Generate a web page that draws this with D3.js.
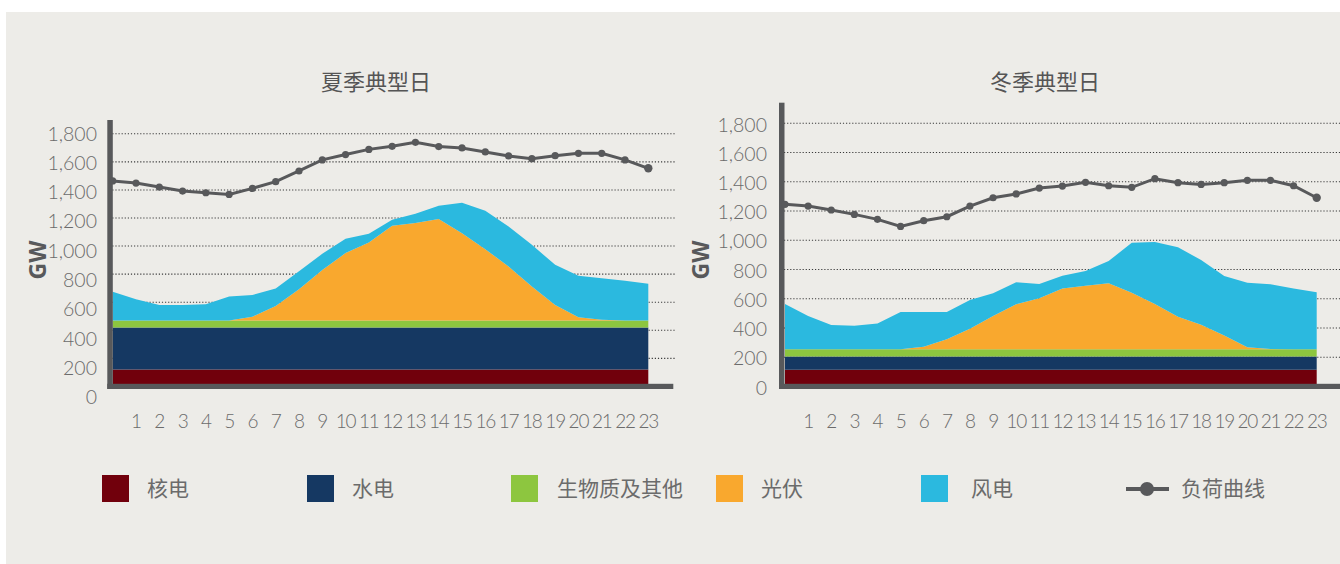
<!DOCTYPE html>
<html>
<head>
<meta charset="utf-8">
<script src="https://cdn.jsdelivr.net/npm/d3@7/dist/d3.min.js"></script>
<style>
html,body{margin:0;padding:0;background:#ffffff;}
svg{display:block;}
</style>
</head>
<body>
<svg id="chart" width="1340" height="564"></svg>
<script>
// ---------- DATA ----------
const hours = [0,1,2,3,4,5,6,7,8,9,10,11,12,13,14,15,16,17,18,19,20,21,22,23];
const xTickLabels = [1,2,3,4,5,6,7,8,9,10,11,12,13,14,15,16,17,18,19,20,21,22,23];
const yTickValues = [0,200,400,600,800,1000,1200,1400,1600,1800];
const chartTitles = ["夏季典型日", "冬季典型日"];
const yAxisTitle = "GW";
const seriesKeys = ["nuclear","hydro","bio","solar","wind"];
const seriesNames = ["核电","水电","生物质及其他","光伏","风电"];
const loadName = "负荷曲线";
const seriesColors = ["#71000c","#153862","#8dc63f","#f9a82e","#2bb9df"];
const loadColor = "#58595b";

// Summer typical day (GW)
const summerNuclear = [120,120,120,120,120,120,120,120,120,120,120,120,120,120,120,120,120,120,120,120,120,120,120,120];
const summerHydro   = [300,300,300,300,300,300,300,300,300,300,300,300,300,300,300,300,300,300,300,300,300,300,300,300];
const summerBio     = [50,50,50,50,50,50,50,50,50,50,50,50,50,50,50,50,50,50,50,50,50,50,50,50];
const summerSolar   = [0,0,0,0,0,0,27,103,223,360,480,555,675,694,722,622,508,384,241,110,23,5,0,0];
const summerWind    = [205,151,110,110,115,170,155,124,128,115,103,62,42,66,95,217,274,286,298,286,295,296,282,261];
const summerLoad    = [1464,1449,1421,1392,1380,1368,1411,1459,1535,1614,1652,1689,1711,1739,1709,1699,1671,1642,1623,1644,1661,1661,1614,1554];

// Winter typical day (GW)
const winterNuclear = [115,115,115,115,115,115,115,115,115,115,115,115,115,115,115,115,115,115,115,115,115,115,115,115];
const winterHydro   = [90,90,90,90,90,90,90,90,90,90,90,90,90,90,90,90,90,90,90,90,90,90,90,90];
const winterBio     = [50,50,50,50,50,50,50,50,50,50,50,50,50,50,50,50,50,50,50,50,50,50,50,50];
const winterSolar   = [0,0,0,0,0,0,17,68,140,227,307,348,416,434,451,386,309,222,168,94,13,1,0,0];
const winterWind    = [309,227,165,161,175,254,237,186,196,155,151,98,87,101,152,342,424,475,442,407,442,443,416,389];
const winterLoad    = [1246,1234,1207,1177,1143,1095,1134,1161,1234,1291,1317,1357,1371,1396,1373,1362,1421,1394,1382,1394,1410,1410,1373,1291];

// ---------- BUILD TABLES ----------
function buildTable(nuc, hyd, bio, sol, wnd, load){
  return hours.map((h,i)=>({hour:h, nuclear:nuc[i], hydro:hyd[i], bio:bio[i], solar:sol[i], wind:wnd[i], load:load[i]}));
}
const summerTable = buildTable(summerNuclear, summerHydro, summerBio, summerSolar, summerWind, summerLoad);
const winterTable = buildTable(winterNuclear, winterHydro, winterBio, winterSolar, winterWind, winterLoad);

// ---------- LAYOUT ----------
const svg = d3.select("#chart");
svg.append("rect").attr("x",6).attr("y",12).attr("width",1334).attr("height",552).attr("fill","#edece8");

const numFont = "Lato, 'Open Sans', 'DejaVu Sans', sans-serif";
const cjkFont = "'Noto Sans CJK SC', 'Noto Sans', sans-serif";
const textColor = "#6b6b6b";

const panels = [
  { table: summerTable, title: chartTitles[0], titleX: 376,
    xRange:[112.7,648.3], gridRange:[386.4,133.8], labelRange:[396.7,133],
    axisX:107.3, axisTop:120, axisRight:673.3, gridRight:675, labelX:97, gwX:37 },
  { table: winterTable, title: chartTitles[1], titleX: 1045,
    xRange:[785,1316.7], gridRange:[386.5,123.3], labelRange:[387,124],
    axisX:779, axisTop:102.7, axisRight:1340, gridRight:1340, labelX:767, gwX:700 }
];

const stack = d3.stack().keys(seriesKeys);

panels.forEach(p=>{
  const g = svg.append("g");
  const x = d3.scaleLinear().domain([hours[0], hours[hours.length-1]]).range(p.xRange);
  const y = d3.scaleLinear().domain([0,1800]).range(p.gridRange);
  const yl = d3.scaleLinear().domain([0,1800]).range(p.labelRange);

  // title
  g.append("text").attr("x",p.titleX).attr("y",80).attr("text-anchor","middle")
    .attr("dominant-baseline","central").attr("font-family",cjkFont).attr("font-size",22)
    .attr("fill","#555").text(p.title);

  // GW title
  g.append("text").attr("transform",`translate(${p.gwX},260) rotate(-90)`)
    .attr("text-anchor","middle").attr("dominant-baseline","central")
    .attr("font-family","'Open Sans', 'DejaVu Sans', sans-serif").attr("font-weight",700)
    .attr("font-size",23).attr("fill","#58595b").text(yAxisTitle);

  // gridlines
  g.append("g").selectAll("line").data(yTickValues.filter(v=>v>0)).join("line")
    .attr("x1",p.axisX+5).attr("x2",p.gridRight)
    .attr("y1",d=>y(d)).attr("y2",d=>y(d))
    .attr("stroke","#3a3a3a").attr("stroke-width",1.1).attr("stroke-dasharray","1.2,1.9");

  // y tick labels
  g.append("g").selectAll("text").data(yTickValues).join("text")
    .attr("x",p.labelX).attr("y",d=>yl(d)).attr("text-anchor","end")
    .attr("dominant-baseline","central").attr("font-family",numFont).attr("font-weight",300)
    .attr("font-size",19.5).attr("fill",textColor).text(d=>d3.format(",")(d));

  // stacked areas
  const layers = stack(p.table);
  const area = d3.area().x(d=>x(d.data.hour)).y0(d=>y(d[0])).y1(d=>y(d[1]));
  g.append("g").selectAll("path").data(layers).join("path")
    .attr("d",area).attr("fill",(d,i)=>seriesColors[i]);

  // axes bars
  g.append("rect").attr("x",p.axisX).attr("y",p.axisTop).attr("width",5.5)
    .attr("height",389-p.axisTop).attr("fill","#58595b");
  g.append("rect").attr("x",p.axisX).attr("y",383.8).attr("width",p.axisRight-p.axisX)
    .attr("height",5.2).attr("fill","#58595b");

  // x tick labels
  g.append("g").selectAll("text").data(xTickLabels).join("text")
    .attr("x",d=>x(d)).attr("y",420).attr("text-anchor","middle")
    .attr("dominant-baseline","central").attr("font-family",numFont).attr("font-weight",300)
    .attr("font-size",19).attr("letter-spacing",-1.2).attr("fill",textColor).text(d=>d);

  // load line
  const line = d3.line().x(d=>x(d.hour)).y(d=>y(d.load));
  g.append("path").datum(p.table).attr("d",line).attr("fill","none")
    .attr("stroke",loadColor).attr("stroke-width",3);
  g.append("g").selectAll("circle").data(p.table).join("circle")
    .attr("cx",d=>x(d.hour)).attr("cy",d=>y(d.load))
    .attr("r",(d,i)=> i===p.table.length-1 ? 4.2 : 3.6).attr("fill",loadColor);
});

// ---------- LEGEND ----------
const legendSquareX = [102,307,511,716,921];
const legendTextX = [147,352,557,761,971];
const lg = svg.append("g");
seriesNames.forEach((name,i)=>{
  lg.append("rect").attr("x",legendSquareX[i]).attr("y",475).attr("width",27).attr("height",27)
    .attr("fill",seriesColors[i]);
  lg.append("text").attr("x",legendTextX[i]).attr("y",487).attr("dominant-baseline","central")
    .attr("font-family",cjkFont).attr("font-size",21).attr("fill","#6b6b6b").text(name);
});
lg.append("line").attr("x1",1126).attr("x2",1169).attr("y1",489).attr("y2",489)
  .attr("stroke",loadColor).attr("stroke-width",4);
lg.append("circle").attr("cx",1147).attr("cy",489).attr("r",7).attr("fill",loadColor);
lg.append("text").attr("x",1181).attr("y",487).attr("dominant-baseline","central")
  .attr("font-family",cjkFont).attr("font-size",21).attr("fill","#6b6b6b").text(loadName);
</script>
</body>
</html>
